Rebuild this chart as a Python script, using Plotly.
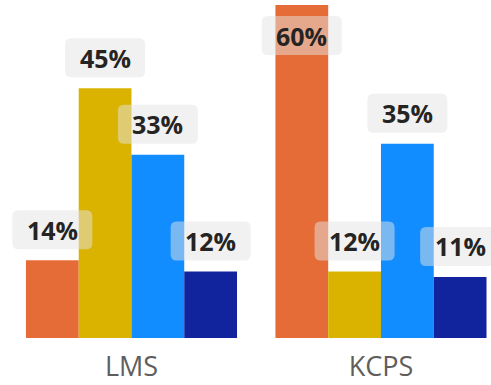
import plotly.graph_objects as go

categories = ["LMS", "KCPS"]
series_names = ["A", "B", "C", "D"]
series_values = [
    [14, 60],
    [45, 12],
    [33, 35],
    [12, 11],
]
colors = ["#E66C37", "#D9B300", "#118DFF", "#12239E"]

cat_pos = [0, 1]
n = len(series_names)
bargap = 0.154
bar_w = (1 - bargap) / n
ymax = 60
px_per_unit = 333 / ymax
label_off = 30.5 / px_per_unit
label_cap = ymax - 5.5

fig = go.Figure()
for i, (name, vals, col) in enumerate(zip(series_names, series_values, colors)):
    fig.add_trace(go.Bar(x=cat_pos, y=vals, name=name, marker_color=col,
                         marker_line_width=0, showlegend=False, hoverinfo="skip"))

w, h, r = 40, 19.5, 6
path = (f"M {-w+r},{-h} L {w-r},{-h} Q {w},{-h} {w},{-h+r} L {w},{h-r} Q {w},{h} {w-r},{h} "
        f"L {-w+r},{h} Q {-w},{h} {-w},{h-r} L {-w},{-h+r} Q {-w},{-h} {-w+r},{-h} Z")

for i, vals in enumerate(series_values):
    off = (i - (n - 1) / 2) * bar_w
    for c, v in zip(cat_pos, vals):
        xc = c + off
        yc = min(v + label_off, label_cap)
        fig.add_shape(type="path", xref="x", yref="y", xsizemode="pixel", ysizemode="pixel",
                      xanchor=xc, yanchor=yc, path=path,
                      fillcolor="rgba(228,228,228,0.5)", line_width=0, layer="above")
        fig.add_annotation(x=xc, y=yc, text=f"<b>{v}%</b>", showarrow=False,
                           font=dict(family="Open Sans", size=25, color="#252423"),
                           xanchor="center", yanchor="middle")

fig.update_layout(
    width=491, height=385,
    margin=dict(l=0, r=0, t=5, b=47),
    barmode="group", bargap=bargap, bargroupgap=0,
    plot_bgcolor="white", paper_bgcolor="white",
    xaxis=dict(range=[-0.527, 1.441], tickvals=cat_pos, ticktext=categories,
               showgrid=False, zeroline=False, showline=False, ticks="",
               ticklabelstandoff=10,
               tickfont=dict(family="Open Sans", size=27, color="#605E5C")),
    yaxis=dict(range=[0, ymax], visible=False, showgrid=False, zeroline=False),
)

fig.write_html("out.html", config={"displayModeBar": False},
               post_script="document.body.style.margin='0';")
